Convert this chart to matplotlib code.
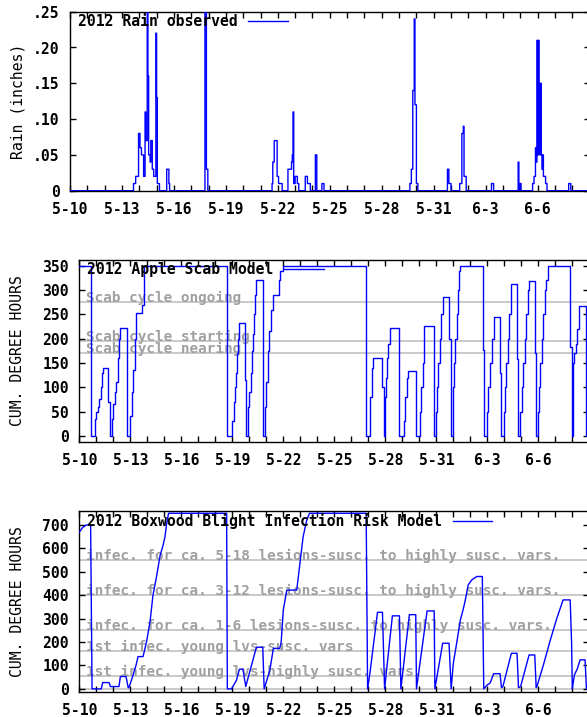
import numpy as np
import matplotlib.pyplot as plt
from matplotlib.lines import Line2D

W, H = 587, 717

plt.rcParams['font.family'] = 'DejaVu Sans Mono'
plt.rcParams['font.weight'] = 'bold'
plt.rcParams['font.size'] = 10.6

BLUE = '#0000ff'

# x axis is hours since 5-10 00:00, one tick per day, label every 3rd day
day_labels = ["5-10", "5-13", "5-16", "5-19", "5-22", "5-25", "5-28", "5-31", "6-3", "6-6"]

# hourly rain (inches), only the hours with rain
rain_hours = [88, 89, 90, 91, 92, 93, 94, 95, 96, 97, 98, 99, 100, 101, 102, 103, 104, 105, 106,
              107, 108, 109, 110, 111, 112, 113, 114, 115, 116, 117, 118, 119, 120, 121, 122, 123,
              134, 135, 136, 137,
              187, 188, 189, 190,
              280, 281, 282, 283, 284, 285, 286, 287, 288, 289, 290, 291, 292, 293,
              302, 303, 304, 305, 306, 307, 308, 309, 310, 311, 312, 313, 314, 315, 316,
              326, 327, 328, 329, 330, 331, 332,
              340, 341, 349, 350, 351,
              471, 472, 473, 474, 475, 476, 477, 478, 479, 480, 481,
              523, 524, 525, 526, 527,
              540, 541, 542, 543, 544, 545, 546, 547, 548,
              584, 585, 586,
              621, 623, 624,
              641, 642, 643, 644, 645, 646, 647, 648, 649, 650, 651, 652, 653, 654, 655, 656, 657,
              658, 659, 660,
              691, 692, 693]
rain_amt = [.01, .01, .01, .02, .02, .02, .02, .08, .08, .06, .06, .05, .05, .05, .02, .02, .11, .07, .07,
            .30, .16, .05, .05, .04, .07, .07, .03, .03, .02, .02, .02, .22, .13, .01, .01, .01,
            .03, .03, .03, .01,
            .40, .35, .03, .03,
            .01, .04, .04, .07, .07, .07, .07, .02, .02, .01, .01, .01, .01, .01,
            .03, .03, .03, .03, .03, .04, .05, .11, .01, .01, .02, .02, .02, .01, .01,
            .02, .02, .02, .01, .01, .01, .01,
            .05, .05, .01, .01, .01,
            .01, .01, .03, .03, .14, .14, .24, .12, .12, .01, .01,
            .03, .03, .01, .01, .01,
            .01, .01, .01, .08, .08, .09, .02, .02, .02,
            .01, .01, .01,
            .04, .01, .01,
            .01, .01, .02, .02, .06, .04, .21, .05, .21, .15, .05, .15, .05, .03, .05, .02, .02,
            .02, .01, .01,
            .01, .01, .01]

# apple scab cumulative degree hours (value holds from each hour to the next)
scab_hours = [0, 16, 22, 24, 26, 28, 30, 32, 34, 41, 43,
              46, 48, 50, 52, 54, 55, 56, 58, 67, 68,
              72, 74, 76, 78, 80, 89, 91, 92,
              209, 216, 218, 220, 221, 222, 224, 226, 234, 235,
              238, 240, 242, 244, 245, 247, 248, 250, 260,
              262, 264, 266, 268, 270, 273, 282, 284, 287,
              405, 411, 413, 415, 428, 430, 431, 433, 434, 436, 438, 452,
              458, 460, 462, 464, 475,
              481, 483, 485, 486, 487, 501,
              503, 505, 507, 509, 511, 513, 522, 525,
              527, 529, 531, 533, 535, 536, 537, 570, 571,
              575, 577, 580, 582, 585, 594, 595,
              599, 601, 603, 605, 607, 609, 610, 618, 620,
              622, 625, 627, 629, 631, 633, 635, 643, 645,
              647, 649, 651, 653, 655, 657, 659, 661, 693, 695,
              697, 699, 701, 702, 705, 715, 720]
scab_vals = [350, 0, 35, 50, 60, 75, 100, 130, 140, 70, 0,
             35, 65, 90, 110, 125, 160, 200, 222, 110, 0,
             40, 90, 135, 200, 253, 270, 290, 350,
             0, 30, 70, 100, 130, 170, 200, 232, 115, 0,
             60, 90, 130, 175, 210, 250, 290, 320, 0,
             60, 110, 175, 215, 260, 290, 320, 340, 350,
             0, 80, 140, 161, 100, 0, 80, 120, 160, 190, 222, 0,
             30, 80, 120, 133, 0,
             50, 100, 150, 170, 226, 0,
             50, 100, 150, 200, 250, 285, 200, 0,
             100, 150, 200, 250, 300, 340, 350, 176, 0,
             50, 100, 150, 200, 245, 130, 0,
             50, 100, 150, 200, 250, 300, 313, 159, 0,
             50, 100, 150, 200, 250, 300, 318, 170, 0,
             50, 100, 150, 200, 250, 300, 320, 350, 183, 0,
             150, 170, 190, 220, 267, 0, 0]
scab_levels = [275, 195, 170]
scab_names = ["Scab cycle ongoing", "Scab cycle starting", "Scab cycle nearing"]

# boxwood blight cumulative degree hours
box_hours = [0, 5, 10, 16, 17, 18, 31, 33, 42, 44, 56, 58, 66, 69, 70, 75, 80, 83, 90,
             95, 100, 104, 109, 114, 118, 121, 123, 126, 208, 209,
             215, 222, 226, 231, 235, 250, 259, 261, 264, 269, 274, 283, 285, 288, 293, 307,
             312, 316, 321, 325, 405, 407, 410, 421, 428, 431, 442, 452, 454, 466, 475, 476,
             491, 501, 502, 513, 522, 525, 528, 533, 538, 542, 545, 549, 554, 561, 569, 571,
             576, 580, 585, 594, 596, 598, 610, 618, 620, 623, 635, 643, 645, 646,
             655, 665, 674, 683, 693, 695, 696, 699, 703, 707, 714, 716, 720]
box_vals = [670, 690, 700, 700, 350, 0, 0, 27, 27, 10, 10, 53, 53, 5, 5, 50, 100, 138, 138,
            202, 290, 400, 479, 569, 610, 650, 700, 750, 750, 0,
            0, 38, 84, 84, 10, 178, 178, 0, 30, 80, 173, 173, 200, 337, 422, 422,
            550, 650, 720, 750, 750, 0, 60, 327, 327, 0, 312, 312, 0, 317, 317, 0,
            333, 333, 0, 195, 195, 0, 109, 200, 295, 340, 380, 444, 465, 480, 480, 0,
            17, 25, 65, 65, 5, 10, 152, 152, 5, 10, 145, 145, 5, 10,
            100, 209, 300, 380, 380, 195, 0, 60, 85, 124, 124, 0, 0]
box_levels = [550, 400, 250, 160, 55, 0]
box_names = ["infec. for ca. 5-18 lesions-susc. to highly susc. vars.",
             "infec. for ca. 3-12 lesions-susc. to highly susc. vars.",
             "infec. for ca. 1-6 lesions-susc. to highly susc. vars.",
             "1st infec. young lvs-susc. vars",
             "1st infec. young lvs-highly susc. vars.",
             ""]


def px_rect(l, t, r, b):
    return [l / W, 1 - b / H, (r - l) / W, (b - t) / H]


def setup(ax, box, ylabel, legend_text):
    l, t, r, b = box
    ax.set_xlim(0, 720)
    ticks = list(range(0, 721, 24))
    labels = [day_labels[i // 3] if i % 3 == 0 and i // 3 < len(day_labels) else "" for i in range(len(ticks))]
    ax.set_xticks(ticks)
    ax.set_xticklabels(labels)
    ax.tick_params(direction='in', length=4, width=1, top=True, right=True, colors='black')
    ax.tick_params(axis='x', pad=8)
    ax.tick_params(axis='y', pad=7.5)
    for s in ax.spines.values():
        s.set_linewidth(1.0)
    ax.set_ylabel(ylabel, va='center')
    ax.yaxis.set_label_coords((18 - l) / (r - l), 0.5)
    handle = Line2D([], [], color=BLUE, lw=1.0)
    ax.legend([handle], [legend_text], loc='upper left', frameon=False, markerfirst=False,
              bbox_to_anchor=(8 / (r - l), 1 - 2 / (b - t)), borderpad=0, borderaxespad=0,
              handlelength=2.7, handletextpad=0.7)


fig = plt.figure(figsize=(W / 100, H / 100), dpi=100)

# rain
box1 = (70, 11.7, 589.6, 190.7)
ax1 = fig.add_axes(px_rect(*box1))
hours = np.arange(0, 721)
rain = np.zeros(len(hours))
rain[rain_hours] = rain_amt
ax1.step(hours, rain, where='post', color=BLUE, lw=1.0, zorder=3)
ax1.set_ylim(0, 0.25)
ax1.set_yticks([0, .05, .10, .15, .20, .25])
ax1.set_yticklabels(["0", ".05", ".10", ".15", ".20", ".25"])
setup(ax1, box1, "Rain (inches)", "2012 Rain observed")

# apple scab
box2 = (79.3, 260, 589.3, 441.7)
ax2 = fig.add_axes(px_rect(*box2))
ax2.step(scab_hours, scab_vals, where='post', color=BLUE, lw=1.0, zorder=3)
ax2.set_ylim(-12, 362)
ax2.set_yticks(range(0, 351, 50))
for lev, name in zip(scab_levels, scab_names):
    ax2.axhline(lev, color='#c0c0c0', lw=1.2, zorder=1)
    ax2.text(0.0131, lev, name, transform=ax2.get_yaxis_transform(), color='#a0a0a0',
             va='baseline', ha='left', fontsize=10.4, zorder=2)
setup(ax2, box2, "CUM. DEGREE HOURS", "2012 Apple Scab Model")

# boxwood blight
box3 = (79.3, 510.7, 589.3, 691.7)
ax3 = fig.add_axes(px_rect(*box3))
ax3.plot(box_hours, box_vals, color=BLUE, lw=1.0, zorder=3)
ax3.set_ylim(-12, 761)
ax3.set_yticks(range(0, 701, 100))
for lev, name in zip(box_levels, box_names):
    ax3.axhline(lev, color='#c0c0c0', lw=1.2, zorder=1)
    ax3.text(0.0131, lev, name, transform=ax3.get_yaxis_transform(), color='#a0a0a0',
             va='baseline', ha='left', fontsize=10.4, zorder=2)
setup(ax3, box3, "CUM. DEGREE HOURS", "2012 Boxwood Blight Infection Risk Model")

fig.savefig("out.png", dpi=100)
